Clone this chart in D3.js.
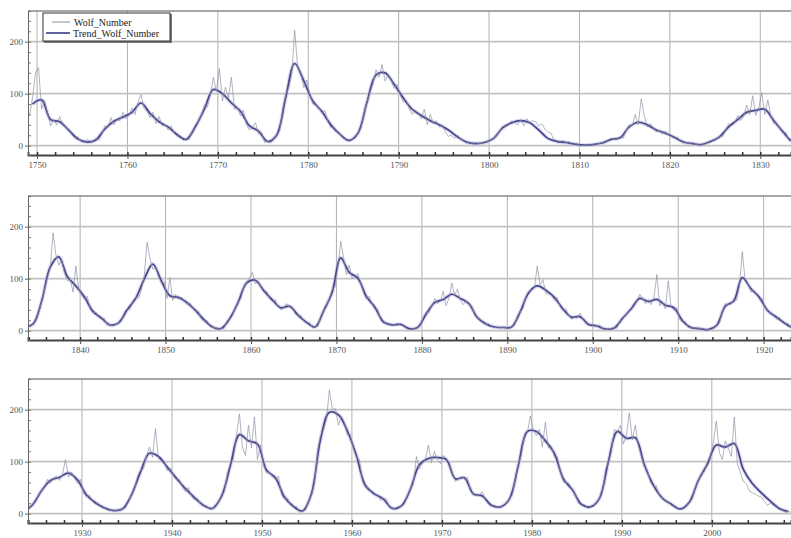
<!DOCTYPE html>
<html>
<head>
<meta charset="utf-8">
<script src="https://cdn.jsdelivr.net/npm/d3@7/dist/d3.min.js"></script>
<style>
body { margin: 0; background: #fff; }
svg text { font-family: "Liberation Serif", "DejaVu Serif", serif; }
</style>
</head>
<body>
<svg id="mainCanvas" width="791" height="538"></svg>
<script>
// Wolf number, three readings per year
var wolf1 = [ // 1749 - 1833
    58,92,140, 150,70,88, 62,38,50, 40,56,42, 36,28,22, 14,18,8, 6,12,9, 8,14,10, 22,38,34, 54,40,50,
    48,64,52, 58,72,60, 84,98,72, 66,54,64, 42,56,38, 40,30,38, 24,18,20, 10,14,12, 28,40,46, 58,78,74,
    96,132,104, 148,86,112, 92,132,70, 74,58,68, 40,30,36, 44,22,26, 6,10,5, 12,22,28, 70,98,110, 135,222,150,
    140,112,126, 98,80,78, 74,62,68, 46,34,36, 28,22,18, 12,8,11, 14,24,34, 62,84,102, 118,146,132, 156,124,138,
    126,110,118, 98,84,88, 72,60,68, 64,52,70, 40,60,42, 48,36,40, 26,18,20, 14,20,14, 8,5,7, 3,6,4,
    4,8,7, 10,14,20, 28,38,36, 42,48,44, 40,50,38, 52,44,48, 46,38,42, 32,26,24, 12,10,8, 10,6,8,
    2,4,2, 0,0,0, 1,2,1, 4,7,5, 10,14,12, 12,18,14, 28,40,38, 60,40,90, 58,36,42, 34,26,30,
    22,28,20, 18,14,16, 8,5,7, 3,6,3, 1,2,2, 6,10,9, 14,18,17, 30,42,38, 44,58,48, 56,78,60,
    96,58,72, 102,60,88, 58,42,44, 32,24,26, 10,8,7
];
var wolf2 = [ // 1834 - 1923
    8,14,18, 36,58,78, 100,122,188, 146,126,138, 110,96,100, 74,124,80,
    68,60,66, 42,34,36, 26,22,24, 10,12,9, 12,16,18, 36,42,40, 58,64,62, 78,104,170, 140,118,122, 104,92,94,
    62,102,58, 70,60,64, 58,50,54, 44,36,38, 22,18,20, 8,6,6, 4,5,4, 18,22,28, 46,56,62, 84,94,102,
    112,90,96, 82,74,76, 62,56,60, 46,40,44, 52,44,46, 32,28,30, 18,14,16, 6,8,8, 28,38,46, 62,80,84,
    122,172,140, 108,126,100, 104,110,92, 72,60,66, 52,40,42, 20,14,16, 12,10,12, 14,10,12, 4,2,4, 3,6,9,
    26,36,34, 48,62,52, 56,76,48, 62,92,68, 80,58,50, 58,50,48, 30,24,22, 14,12,13, 8,6,7, 5,7,6,
    4,7,10, 28,36,42, 66,76,78, 82,124,88, 98,72,70, 68,58,64, 46,38,42, 30,22,26, 24,34,22, 14,10,12,
    8,10,11, 3,2,3, 4,6,5, 18,26,30, 36,44,46, 58,70,62, 52,60,50, 64,108,48, 54,42,96, 46,38,44,
    22,16,18, 6,5,6, 3,4,4, 1,2,2, 6,10,14, 38,52,50, 50,62,58, 86,152,96, 90,74,78, 70,60,62,
    44,36,34, 28,22,26, 16,12,14, 6,5,7
];
var wolf3 = [ // 1924 - 2008
    10,18,22, 36,44,52, 66,58,68, 72,64,76, 104,70,80, 68,58,66,
    40,32,36, 24,18,20, 12,10,11, 6,5,6, 6,9,11, 22,38,46, 72,84,86, 112,128,108, 164,106,100, 96,82,88,
    72,64,66, 50,42,50, 34,26,30, 18,14,16, 8,10,12, 22,36,42, 78,98,104, 150,192,128, 112,170,126, 186,104,132,
    94,78,80, 70,66,72, 36,28,30, 16,12,14, 3,5,6, 22,36,56, 120,150,160, 180,238,200, 202,170,188, 176,150,152,
    124,108,104, 62,50,50, 40,36,36, 26,30,28, 12,10,9, 14,14,18, 34,48,58, 110,86,96, 104,132,98, 120,104,96,
    112,106,98, 78,62,66, 72,66,70, 44,36,34, 36,42,26, 18,14,16, 12,14,14, 20,28,36, 70,96,112, 150,156,188,
    160,150,162, 128,176,126, 130,108,110, 80,60,60, 58,44,36, 20,16,18, 10,12,18, 18,30,40, 84,98,118, 162,158,170,
    134,150,194, 142,170,130, 110,90,84, 60,52,54, 34,30,26, 22,16,14, 9,8,9, 14,22,28, 50,64,78, 80,100,110,
    136,178,118, 104,140,126, 110,186,96, 80,62,58, 44,40,38, 34,32,24, 16,20,16, 12,8,6, 3,4,3
];
// Trend_Wolf_Number, one value per year 1749 - 2008
var trend = [
    80,
    88, 50, 46, 30, 13, 7, 11, 32, 47, 55,
    64, 82, 62, 46, 36, 21, 12, 36, 70, 108,
    100, 82, 66, 38, 28, 8, 20, 92, 158, 125,
    86, 66, 40, 22, 10, 24, 84, 136, 140, 118,
    92, 70, 58, 48, 40, 30, 17, 7, 4, 6,
    14, 34, 44, 48, 44, 30, 14, 8, 6, 3,
    1, 2, 5, 12, 15, 36, 45, 40, 30, 24,
    16, 7, 4, 2, 8, 17, 36, 50, 64, 68,
    70, 48, 27, 9, 13, 57, 122, 142, 104, 86,
    65, 37, 24, 11, 15, 40, 62, 99, 128, 96,
    67, 64, 54, 39, 21, 7, 4, 23, 55, 92,
    97, 77, 59, 44, 47, 30, 16, 7, 38, 74,
    140, 112, 101, 66, 45, 17, 11, 12, 4, 6,
    32, 54, 60, 70, 62, 52, 25, 13, 7, 6,
    7, 36, 73, 86, 78, 64, 42, 26, 27, 12,
    9, 3, 5, 24, 42, 62, 56, 60, 49, 44,
    19, 6, 4, 2, 10, 47, 57, 102, 81, 64,
    38, 26, 14, 6, 17, 44, 64, 70, 78, 65,
    36, 21, 11, 6, 9, 36, 80, 116, 110, 89,
    68, 48, 31, 16, 10, 33, 93, 152, 140, 134,
    84, 69, 32, 14, 5, 38, 142, 195, 190, 159,
    112, 54, 38, 28, 10, 15, 47, 94, 106, 108,
    104, 67, 69, 38, 34, 16, 13, 28, 93, 158,
    158, 140, 116, 67, 46, 18, 13, 29, 100, 158,
    145, 146, 94, 55, 30, 18, 9, 22, 64, 95,
    132, 128, 135, 85, 58, 40, 24, 10, 4
];
var firstYear = 1749;
var panelYears = [[1749.0, 1833.4], [1833.9, 1923.2], [1924.0, 2008.8]];
var yTicks = [0, 100, 200];
var legendNames = ['Wolf_Number', 'Trend_Wolf_Number'];

var plotLeft = 28;
var plotWidth = 763;
var plotHeight = 144;
var panelTops = [11, 196, 379];
var greyColor = '#8e8ea4';
var trendColor = '#45458c';

var wolfPoints = wolf1.concat(wolf2, wolf3).map(function(v, i) {
    return { year: firstYear + (i + 0.5) / 3, value: v };
});
var trendPoints = trend.map(function(v, i) {
    return { year: firstYear + i + 0.5, value: v };
});

var mainSvg = d3.select('#mainCanvas');
var y = d3.scaleLinear().domain([-18, 259]).range([plotHeight, 0]);

panelYears.forEach(function(years, k) {
    var x = d3.scaleLinear().domain(years).range([0, plotWidth]);
    var g = mainSvg.append('g')
        .attr('transform', 'translate(' + plotLeft + ',' + panelTops[k] + ')');

    g.append('clipPath').attr('id', 'clip' + k)
        .append('rect').attr('width', plotWidth).attr('height', plotHeight);

    var decades = d3.range(Math.ceil(years[0] / 10) * 10, years[1], 10);
    var evens = d3.range(Math.ceil(years[0] / 2) * 2, years[1], 2);

    // grid
    g.selectAll('.vgrid').data(decades).enter().append('line')
        .attr('x1', function(d) { return x(d); })
        .attr('x2', function(d) { return x(d); })
        .attr('y1', 0).attr('y2', plotHeight)
        .attr('stroke', '#b0b0b0').attr('stroke-width', 1);
    g.selectAll('.hgrid').data(yTicks).enter().append('line')
        .attr('x1', 0).attr('x2', plotWidth)
        .attr('y1', function(d) { return y(d); })
        .attr('y2', function(d) { return y(d); })
        .attr('stroke', '#c2c2c2').attr('stroke-width', 1.6);

    // series: smoothed trend first, the raw numbers over it
    var line = d3.line()
        .x(function(d) { return x(d.year); })
        .y(function(d) { return y(d.value); });
    var smooth = d3.line()
        .x(function(d) { return x(d.year); })
        .y(function(d) { return y(d.value); })
        .curve(d3.curveCatmullRom.alpha(0.5));
    var data = g.append('g').attr('clip-path', 'url(#clip' + k + ')');
    data.append('path')
        .datum(trendPoints)
        .attr('d', smooth)
        .attr('fill', 'none')
        .attr('stroke', '#c4c4ea')
        .attr('stroke-width', 4)
        .attr('stroke-opacity', 0.6);
    data.append('path')
        .datum(trendPoints)
        .attr('d', smooth)
        .attr('fill', 'none')
        .attr('stroke', trendColor)
        .attr('stroke-width', 1.7);
    data.append('path')
        .datum(wolfPoints)
        .attr('d', line)
        .attr('fill', 'none')
        .attr('stroke', greyColor)
        .attr('stroke-width', 0.8)
        .attr('stroke-opacity', 0.85);

    // frame
    g.append('line').attr('x1', 0).attr('x2', plotWidth).attr('y1', 0).attr('y2', 0)
        .attr('stroke', '#8a8a8a').attr('stroke-width', 1.5);

    // bottom axis: minor ticks every two years, labels every ten
    var minorAxis = d3.axisBottom(x).tickValues(evens).tickSize(-3).tickFormat('');
    g.append('g').attr('transform', 'translate(0,' + plotHeight + ')').call(minorAxis)
        .call(function(a) {
            a.select('.domain').attr('stroke', '#444').attr('stroke-width', 2);
            a.selectAll('.tick line').attr('stroke', '#333').attr('stroke-width', 1.5);
        });
    var xAxis = d3.axisBottom(x).tickValues(decades).tickSize(4).tickPadding(3)
        .tickFormat(d3.format('d'));
    g.append('g').attr('transform', 'translate(0,' + plotHeight + ')').call(xAxis)
        .call(function(a) {
            a.select('.domain').remove();
            a.selectAll('.tick line').attr('stroke', '#555');
            a.selectAll('text').attr('fill', '#555').attr('font-size', 9)
                .style('font-family', '"Liberation Serif", serif');
        });

    // left axis
    var yMinor = d3.axisLeft(y).tickValues(d3.range(0, 260, 20)).tickSize(-3).tickFormat('');
    g.append('g').call(yMinor)
        .call(function(a) {
            a.select('.domain').attr('stroke', '#666');
            a.selectAll('.tick line').attr('stroke', '#777');
        });
    var yAxis = d3.axisLeft(y).tickValues(yTicks).tickSize(3).tickPadding(2);
    g.append('g').call(yAxis)
        .call(function(a) {
            a.select('.domain').remove();
            a.selectAll('.tick line').attr('stroke', '#666');
            a.selectAll('text').attr('fill', '#555').attr('font-size', 9)
                .style('font-family', '"Liberation Serif", serif');
        });
});

// legend in the first panel
var legend = mainSvg.append('g').attr('transform', 'translate(43,13)');
legend.append('rect')
    .attr('x', 1).attr('y', 1).attr('width', 128).attr('height', 29)
    .attr('fill', '#777');
legend.append('rect')
    .attr('width', 127).attr('height', 28)
    .attr('fill', '#fff').attr('stroke', '#333').attr('stroke-width', 1);
legend.selectAll('.legend-line').data(legendNames).enter().append('line')
    .attr('x1', function(d, i) { return i === 0 ? 9 : 3; })
    .attr('x2', 27)
    .attr('y1', function(d, i) { return 9 + i * 11; })
    .attr('y2', function(d, i) { return 9 + i * 11; })
    .attr('stroke', function(d, i) { return i === 0 ? greyColor : trendColor; })
    .attr('stroke-width', function(d, i) { return i === 0 ? 1 : 1.7; });
legend.selectAll('.legend-text').data(legendNames).enter().append('text')
    .attr('x', function(d, i) { return i === 0 ? 31 : 30; })
    .attr('y', function(d, i) { return 12.5 + i * 11; })
    .attr('font-size', 10)
    .attr('fill', '#222')
    .text(function(d) { return d; });
</script>
</body>
</html>
